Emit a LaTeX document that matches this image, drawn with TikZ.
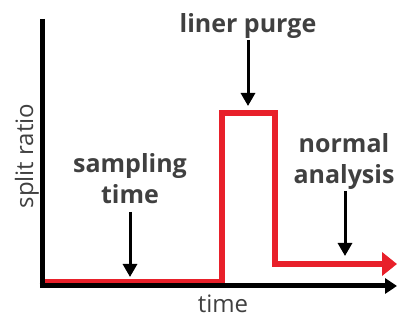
\documentclass[tikz,border=0pt]{standalone}
\usepackage{fontspec}
\setmainfont{Open Sans}
\usetikzlibrary{arrows.meta}
\definecolor{txtgray}{HTML}{404040}
\definecolor{plotred}{HTML}{E8202A}
\tikzset{
  lbl/.style={font=\bfseries\fontsize{25}{31}\selectfont, text=txtgray, align=center, inner sep=0pt},
  axlbl/.style={font=\fontsize{24}{26}\selectfont, text=txtgray, inner sep=0pt},
  pointer/.style={line width=3pt, -{Triangle[width=14pt,length=13pt]}},
  axis/.style={line width=5pt, -{Triangle[width=15pt,length=12pt]}},
  curve/.style={line width=6pt, draw=plotred, line join=miter, -{Triangle[width=23pt,length=15pt]}}
}
\begin{document}
\begin{tikzpicture}[x=1pt,y=-1pt]
\useasboundingbox (0,0) rectangle (397,320);
% red signal
\coordinate (r0) at (42,282);
\coordinate (r1) at (222,282);
\coordinate (r2) at (222,113);
\coordinate (r3) at (275,113);
\coordinate (r4) at (275,264);
\coordinate (r5) at (397,264);
\draw[curve] (r0) -- (r1) -- (r2) -- (r3) -- (r4) -- (r5);
% axes
\coordinate (origin) at (42,286);
\coordinate (ytop) at (42,19);
\coordinate (xend) at (397,286);
\draw[line width=5pt] (ytop) -- ([yshift=2.5pt]origin);
\draw[axis] ([xshift=-2.5pt]origin) -- (xend);
% axis labels
\node[axlbl, rotate=90, anchor=base] (ylab) at (33,156) {split ratio};
\node[axlbl, anchor=base] (xlab) at (223,313) {time};
% annotations
\node[lbl, anchor=base] (lp) at (248,33) {liner purge};
\coordinate (lpA) at (248,40);
\coordinate (lpB) at (248,106);
\draw[pointer] (lpA) -- (lpB);
\node[lbl] (st) at (130,179) {sampling\\time};
\coordinate (stA) at (130,212);
\coordinate (stB) at (130,277);
\draw[pointer] (stA) -- (stB);
\node[lbl] (na) at (344,162) {normal\\analysis};
\coordinate (naA) at (345,191);
\coordinate (naB) at (345,256);
\draw[pointer] (naA) -- (naB);
\end{tikzpicture}
\end{document}
